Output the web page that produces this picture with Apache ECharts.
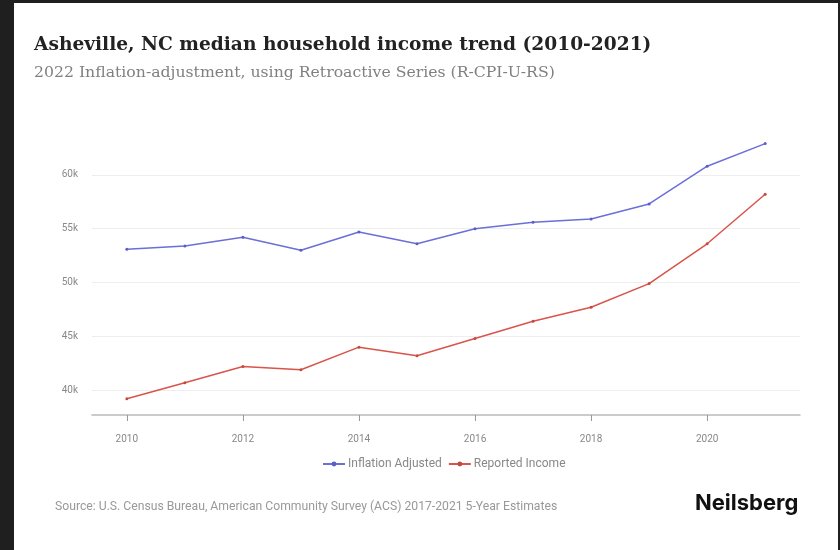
<!DOCTYPE html>
<html>
<head>
<meta charset="utf-8">
<script src="https://cdn.jsdelivr.net/npm/echarts@6/dist/echarts.min.js"></script>
<style>
html,body{margin:0;padding:0;background:#fff;}
#chart{width:840px;height:550px;}
</style>
</head>
<body>
<div id="chart"></div>
<script>
const years = [2010,2011,2012,2013,2014,2015,2016,2017,2018,2019,2020,2021];
const inflationAdjusted = [53100,53400,54200,53000,54700,53600,55000,55600,55900,57300,60800,62900];
const reportedIncome = [39200,40700,42200,41900,44000,43200,44800,46400,47700,49900,53600,58200];
const xTicks = [2010,2012,2014,2016,2018,2020];
const yTicks = [40000,45000,50000,55000,60000];

const titleText = 'Asheville, NC median household income trend (2010-2021)';
const subtitleText = '2022 Inflation-adjustment, using Retroactive Series (R-CPI-U-RS)';
const sourceText = 'Source: U.S. Census Bureau, American Community Survey (ACS) 2017-2021 5-Year Estimates';

const chart = echarts.init(document.getElementById('chart'));
chart.setOption({
  backgroundColor: '#fff',
  animation: false,
  grid: {left: 92, right: 40, top: 121, bottom: 135},
  xAxis: {
    type: 'value',
    min: 2009.4,
    max: 2021.6,
    axisLine: {show: true, lineStyle: {color: '#bbb', width: 1.5}},
    axisTick: {show: true, length: 6, customValues: xTicks, lineStyle: {color: '#999'}},
    axisLabel: {customValues: xTicks, color: '#888', fontSize: 10, fontFamily: 'Roboto', margin: 19, formatter: v => String(v)},
    splitLine: {show: false}
  },
  yAxis: {
    type: 'value',
    min: 37700,
    max: 65000,
    axisLine: {show: false},
    axisTick: {show: false, customValues: yTicks},
    axisLabel: {customValues: yTicks, color: '#888', fontSize: 10, fontFamily: 'Roboto', margin: 14, formatter: v => (v/1000) + 'k'},
    splitLine: {show: true, lineStyle: {color: '#eeeeee', width: 1}}
  },
  legend: {
    left: 317,
    top: 453,
    itemWidth: 22,
    itemHeight: 6,
    itemGap: 6,
    textStyle: {color: '#888', fontSize: 12, fontFamily: 'Roboto', padding: [0, 0, 0, -2]},
    data: ['Inflation Adjusted', 'Reported Income']
  },
  series: [
    {
      name: 'Inflation Adjusted',
      type: 'line',
      data: years.map((y, i) => [y, inflationAdjusted[i]]),
      lineStyle: {color: '#6b6fd8', width: 1.5},
      itemStyle: {color: '#5a5ec8'},
      symbol: 'circle',
      symbolSize: 3
    },
    {
      name: 'Reported Income',
      type: 'line',
      data: years.map((y, i) => [y, reportedIncome[i]]),
      lineStyle: {color: '#d9544a', width: 1.5},
      itemStyle: {color: '#c44a40'},
      symbol: 'circle',
      symbolSize: 3
    }
  ],
  graphic: [
    {type: 'text', left: 34, top: 36, style: {text: titleText, font: 'bold 18.6px "DejaVu Serif"', fill: '#222'}},
    {type: 'text', left: 34, top: 65, style: {text: subtitleText, font: '15.7px "DejaVu Serif"', fill: '#808080'}},
    {type: 'text', left: 55, top: 501, style: {text: sourceText, font: '12.2px Roboto', fill: '#999'}},
    {type: 'text', left: 695, top: 492, style: {text: 'Neilsberg', font: 'bold 22px Inter', fill: '#111'}},
    {type: 'rect', left: 0, top: 0, z: 100, shape: {width: 14, height: 550}, style: {fill: '#1f1f1f'}},
    {type: 'rect', left: 0, top: 0, z: 100, shape: {width: 840, height: 3}, style: {fill: '#1f1f1f'}},
    {type: 'rect', right: 0, top: 0, z: 100, shape: {width: 2, height: 550}, style: {fill: '#1f1f1f'}}
  ]
});
</script>
</body>
</html>
